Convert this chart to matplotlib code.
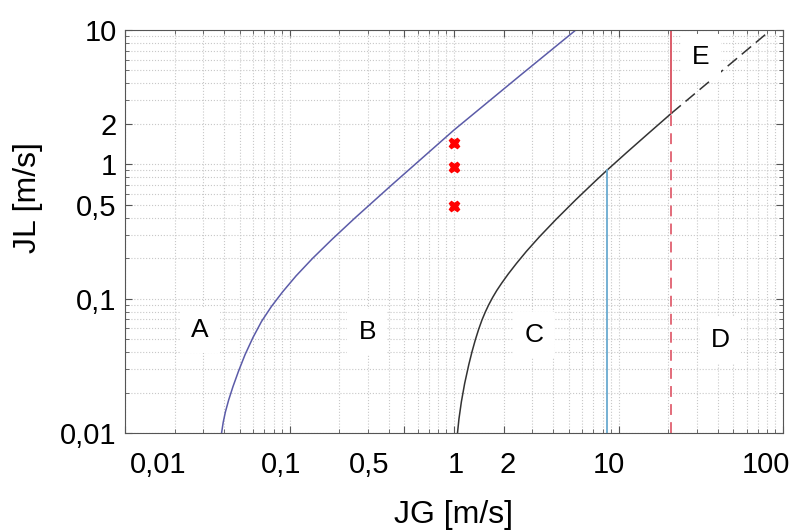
import matplotlib
matplotlib.use('Agg')
import matplotlib.pyplot as plt

plt.rcParams['font.family'] = ['Liberation Sans', 'DejaVu Sans']

# boundary A/B (blue curve)
blue_x = [0.03864, 0.03954, 0.04074, 0.04266, 0.04529, 0.04898, 0.05370,
          0.05998, 0.06761, 0.07762, 0.09099, 0.1096, 0.1380, 0.1820, 0.2512,
          0.4198, 1.0, 2.512, 5.483]
blue_y = [0.0100, 0.01202, 0.01430, 0.01759, 0.02209, 0.02884, 0.03836,
          0.05140, 0.06769, 0.08741, 0.1127, 0.1477, 0.1993, 0.2775, 0.4009,
          0.7053, 1.801, 4.565, 9.965]

# boundary B/C (black curve), solid part and dashed extension
black_x = [1.050, 1.072, 1.109, 1.161, 1.230, 1.288, 1.349, 1.413, 1.479,
           1.549, 1.622, 1.718, 1.820, 1.950, 2.138, 2.399, 2.754, 3.311,
           4.169, 5.495, 7.244, 8.492, 11.22, 15.14, 20.99]
black_y = [0.0100, 0.01276, 0.01710, 0.02339, 0.03228, 0.04046, 0.04955,
           0.05929, 0.06934, 0.07943, 0.08954, 0.1022, 0.1151, 0.1306, 0.1528,
           0.1832, 0.2249, 0.2894, 0.3888, 0.5445, 0.7521, 0.9018, 1.225,
           1.693, 2.402]
black_ext_x = [20.99, 81.0]
black_ext_y = [2.402, 9.6]

# vertical boundaries
cyan_x = [8.49, 8.49]
cyan_y = [0.01, 0.9018]
red_x = [20.99, 20.99]
red_solid_y = [2.402, 10]
red_dash_y = [0.01, 2.402]

# measurement points
pts_x = [1.0, 1.0, 1.0]
pts_y = [1.45, 0.955, 0.489]

# regime labels
reg_names = ['A', 'B', 'C', 'D', 'E']
reg_x = [0.0285, 0.297, 3.05, 41.5, 31.8]
reg_y = [0.0587, 0.0566, 0.054, 0.0495, 6.3]

yticks = [0.01, 0.1, 0.5, 1, 2, 10]
ylabels = ['0,01', '0,1', '0,5', '1', '2', '10']
xticks = [0.01, 0.1, 0.5, 1, 2, 10, 100]
xlabels = ['0,01', '0,1', '0,5', '1', '2', '10', '100']
# where the x labels sit in the picture
xlabel_pos = [0.0158, 0.0887, 0.305, 1.02, 2.12, 8.75, 79.0]

fig = plt.figure(figsize=(8.03, 5.30), dpi=100)
ax = fig.add_axes([125 / 803, 97 / 530, 658 / 803, 403 / 530])
ax.set_xscale('log')
ax.set_yscale('log')
ax.set_xlim(0.01, 100)
ax.set_ylim(0.01, 10)

ax.grid(True, which='both', linestyle=':', color='#c8c8c8', linewidth=0.8)
ax.set_axisbelow(True)

ax.plot(blue_x, blue_y, color='#5b5ba8', lw=1.1)
ax.plot(black_x, black_y, color='#333333', lw=1.1)
ax.plot(black_ext_x, black_ext_y, color='#333333', lw=1.1, dashes=(8, 4))
ax.plot(cyan_x, cyan_y, color='#6aaad0', lw=1.3)
ax.plot(red_x, red_solid_y, color='#d9505f', lw=1.3)
ax.plot(red_x, red_dash_y, color='#e06070', lw=1.3, dashes=(6, 4))
ax.plot(pts_x, pts_y, 'X', color='red', ms=7.5, mec='red', ls='none')

for n, x, y in zip(reg_names, reg_x, reg_y):
    ax.text(x, y, n, fontsize=19, ha='center', va='center',
            bbox=dict(facecolor='white', edgecolor='none', pad=8))

ax.set_yticks(yticks)
ax.set_yticklabels(ylabels)
ax.set_xticks(xticks)
ax.set_xticklabels([''] * len(xticks))
for lab, x in zip(xlabels, xlabel_pos):
    ax.text(x, -0.079, lab, fontsize=21, ha='center', va='center',
            transform=ax.get_xaxis_transform())

ax.tick_params(which='both', direction='in', top=True, right=True, colors='#555555')
ax.tick_params(which='major', length=5, labelsize=21, labelcolor='black', pad=6)
ax.tick_params(which='minor', length=3)
for s in ax.spines.values():
    s.set_color('#555555')

ax.set_xlabel('JG [m/s]', fontsize=23, va='center')
ax.xaxis.set_label_coords(0.5, -0.203)
ax.set_ylabel('JL [m/s]', fontsize=23, va='center')
ax.yaxis.set_label_coords(-0.147, 0.583)

fig.savefig('out.png', dpi=100)
